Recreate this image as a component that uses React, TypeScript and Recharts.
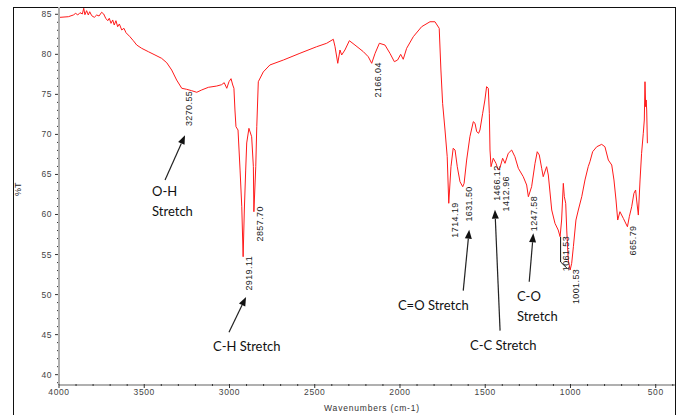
import React from 'react';
import { LineChart, Line, XAxis, YAxis, ReferenceDot, ReferenceLine } from 'recharts';

// spectrum (cm-1, %T)
const wavenumbers = [
  3994, 3945, 3916, 3902, 3890, 3877, 3863, 3855, 3848, 3838,
  3828, 3820, 3808, 3793, 3779, 3765, 3750, 3738, 3726, 3714,
  3705, 3695, 3685, 3676, 3666, 3656, 3646, 3632, 3619, 3607,
  3584, 3564, 3544, 3515, 3476, 3437, 3398, 3368, 3339, 3310,
  3280, 3251, 3222, 3192, 3163, 3124, 3075, 3046, 3031, 3016,
  3003, 2991, 2981, 2974, 2968, 2962, 2950, 2938, 2928, 2920,
  2913, 2905, 2899, 2886, 2870, 2860, 2857, 2846, 2840, 2831,
  2802, 2763, 2684, 2587, 2489, 2430, 2391, 2381, 2365, 2352,
  2342, 2323, 2297, 2264, 2215, 2186, 2166, 2146, 2121, 2088,
  2059, 2033, 2014, 1996, 1981, 1961, 1922, 1873, 1824, 1795,
  1770, 1760, 1750, 1736, 1723, 1714, 1701, 1688, 1677, 1664,
  1648, 1632, 1624, 1609, 1590, 1570, 1560, 1550, 1539, 1531,
  1515, 1502, 1492, 1482, 1476, 1472, 1466, 1453, 1437, 1424,
  1413, 1398, 1384, 1365, 1345, 1326, 1306, 1277, 1257, 1247,
  1228, 1208, 1195, 1183, 1169, 1160, 1140, 1130, 1110, 1091,
  1072, 1061, 1052, 1042, 1036, 1028, 1022, 1013, 1002, 993,
  983, 968, 954, 934, 915, 896, 886, 870, 846, 817,
  798, 778, 758, 745, 733, 723, 710, 690, 666, 655,
  641, 628, 618, 612, 602, 592, 583, 573, 567, 563,
  559, 556, 553, 549,
];
const transmittance = [
  84.62, 84.7, 84.91, 85.12, 84.91, 85.2, 85.04, 85.75, 84.95, 85.45,
  84.91, 85.32, 84.82, 84.62, 84.91, 84.79, 85.25, 85.04, 84.5, 84.2,
  84.5, 83.87, 84.29, 83.66, 84.2, 83.45, 83.79, 83.04, 83.25, 82.7,
  82.2, 81.7, 81.16, 80.75, 80.33, 79.92, 79.5, 78.95, 78.04, 76.79,
  75.76, 75.63, 75.46, 75.26, 75.55, 75.88, 76.04, 76.21, 76.46, 75.76,
  76.58, 76.96, 76.17, 75.76, 73.05, 70.96, 70.55, 65.55, 60.97, 54.73,
  60.56, 65.55, 68.93, 70.76, 69.71, 65.97, 60.35, 65.97, 70.96, 76.58,
  77.8, 78.67, 79.29, 80.13, 80.95, 81.38, 81.88, 80.95, 78.88, 80.54,
  79.92, 80.54, 81.7, 81.16, 80.33, 79.7, 78.88, 80.13, 81.38, 81.16,
  80.13, 79.08, 79.29, 80.0, 79.38, 80.75, 82.2, 83.45, 84.07, 84.07,
  83.25, 78.04, 73.88, 70.55, 67.22, 61.4, 65.97, 68.27, 68.05, 65.97,
  64.09, 63.47, 63.89, 66.8, 69.71, 71.59, 71.39, 70.34, 70.14, 70.55,
  72.64, 74.3, 75.96, 75.76, 72.64, 68.05, 65.97, 67.02, 66.39, 65.55,
  65.89, 67.02, 66.39, 67.64, 68.05, 67.22, 65.77, 64.72, 63.68, 62.22,
  63.47, 66.39, 67.84, 67.43, 65.77, 64.72, 65.97, 64.93, 60.56, 58.9,
  58.06, 57.23, 59.31, 63.89, 62.22, 61.4, 58.06, 54.32, 53.07, 53.9,
  55.98, 59.31, 60.56, 62.22, 64.31, 65.97, 66.59, 67.84, 68.46, 68.76,
  68.46, 66.8, 66.18, 64.31, 61.81, 59.31, 60.35, 59.52, 58.47, 59.72,
  60.97, 62.64, 63.06, 61.81, 59.93, 64.31, 67.64, 70.14, 71.8, 76.58,
  73.46, 74.3, 73.05, 68.9,
];

// peak picks
const peakLabels = ['3270.55', '2919.11', '2857.70', '2166.04', '1714.19', '1631.50', '1466.12', '1412.96', '1247.58', '1061.53', '1001.53', '665.79'];
const peakPositions = [3270.55, 2919.11, 2857.7, 2166.04, 1714.19, 1631.5, 1466.12, 1412.96, 1247.58, 1061.53, 1001.53, 665.79];
const peakValues = [75.7, 54.7, 60.3, 78.9, 61.4, 63.4, 66.0, 65.8, 62.2, 57.2, 53.1, 58.5];
// small pixel nudges for where the label text starts
const peakLift: Record<string, number> = { '3270.55': 2, '2857.70': -6, '1412.96': 8 };

// band annotations: text lines, where the text sits, arrow tail and tip (cm-1, %T)
const noteLines = [['O-H', 'Stretch'], ['C-H Stretch'], ['C=O Stretch'], ['C-C Stretch'], ['C-O', 'Stretch']];
const noteAt = [[3454, 62.3], [3097, 42.95], [2012, 48.07], [1589, 43.1], [1314, 49.2]];
const arrowFrom = [[3378, 64.3], [3003, 45.3], [1629, 50.5], [1413, 45.5], [1242, 51.6]];
const arrowTo = [[3261, 69.9], [2903, 49.7], [1594, 58.1], [1443, 60.6], [1218, 57.65]];

// leader drawn by the instrument software near 1061 / 1001
const leader = [[1058, 57.2], [1058, 54.07], [1021, 53.31]];

const xLabels = [4000, 3500, 3000, 2500, 2000, 1500, 1000, 500];
const yLabels = [40, 45, 50, 55, 60, 65, 70, 75, 80, 85];
const xTicks: number[] = [];
for (let v = 4000; v >= 400; v -= 100) xTicks.push(v);
const yTicks: number[] = [];
for (let v = 39; v <= 85; v++) yTicks.push(v);

const data = wavenumbers.map((wn, i) => ({ wn, t: transmittance[i] }));

const tickFont = "'Liberation Sans', Arial, sans-serif";
const noteFont = "Lato, 'Open Sans', sans-serif";

const YTick = ({ x, y, payload }: any) => {
  const v = payload.value;
  const major = yLabels.includes(v);
  return (
    <g>
      <line x1={x - (major ? 4 : 2)} x2={x - 1} y1={y} y2={y} stroke="#333" />
      {major && (
        <text x={x - 7} y={y} dy={3} textAnchor="end" fontSize={8.5} letterSpacing={0.5} fill="#444" fontFamily={tickFont}>
          {v}
        </text>
      )}
    </g>
  );
};

const XTick = ({ x, y, payload }: any) => {
  const v = payload.value;
  const major = xLabels.includes(v);
  return (
    <g>
      <line x1={x} x2={x} y1={y - 1} y2={y + (major ? 3 : 1)} stroke="#333" />
      {major && (
        <text x={x} y={y + 10} textAnchor="middle" fontSize={8.5} letterSpacing={0.6} fill="#444" fontFamily={tickFont}>
          {v}
        </text>
      )}
    </g>
  );
};

const Arrow = (p: any) => {
  const { x1, y1, x2, y2 } = p;
  const dx = x2 - x1;
  const dy = y2 - y1;
  const len = Math.hypot(dx, dy) || 1;
  const ux = dx / len;
  const uy = dy / len;
  const hl = 9;
  const hw = 3.5;
  const bx = x2 - ux * hl;
  const by = y2 - uy * hl;
  return (
    <g>
      <line x1={x1} y1={y1} x2={bx} y2={by} stroke="#222" strokeWidth={1.2} />
      <polygon points={`${x2},${y2} ${bx - uy * hw},${by + ux * hw} ${bx + uy * hw},${by - ux * hw}`} fill="#111" />
    </g>
  );
};

const Plain = (p: any) => <line x1={p.x1} y1={p.y1} x2={p.x2} y2={p.y2} stroke="#111" strokeWidth={1} />;

export default function App() {
  return (
    <div style={{ position: 'absolute', left: 0, top: 0, width: 679, height: 415, overflow: 'hidden', background: '#fff' }}>
      <div style={{ position: 'absolute', left: 13, top: 7, width: 661, height: 440, border: '1px solid #111' }} />
      <div style={{ position: 'absolute', left: 0, top: 0 }}>
        <LineChart width={679} height={415} data={data} margin={{ top: 7, right: 4, left: 0, bottom: 0 }}>
          <XAxis
            dataKey="wn"
            type="number"
            reversed
            domain={[387, 4000]}
            allowDataOverflow
            ticks={xTicks}
            interval={0}
            height={30}
            tickSize={0}
            tickMargin={0}
            tickLine={false}
            axisLine={{ stroke: '#b0b0b0', strokeWidth: 2 }}
            tick={<XTick />}
            label={{ value: 'Wavenumbers (cm-1)', position: 'insideBottom', offset: 4, dx: 5, fontSize: 8.5, letterSpacing: 0.8, fill: '#333', fontFamily: tickFont }}
          />
          <YAxis
            type="number"
            domain={[38.71, 85.91]}
            allowDataOverflow
            ticks={yTicks}
            interval={0}
            width={59}
            tickSize={0}
            tickMargin={0}
            tickLine={false}
            axisLine={{ stroke: '#b0b0b0', strokeWidth: 2 }}
            tick={<YTick />}
            label={{ value: '%T', angle: -90, position: 'insideLeft', offset: 18, fontSize: 9, fill: '#222', fontFamily: tickFont }}
          />
          <Line type="linear" dataKey="t" stroke="#ff1a1a" strokeWidth={1} dot={false} isAnimationActive={false} />

          <ReferenceLine segment={[{ x: leader[0][0], y: leader[0][1] }, { x: leader[1][0], y: leader[1][1] }]} shape={Plain} ifOverflow="visible" />
          <ReferenceLine segment={[{ x: leader[1][0], y: leader[1][1] }, { x: leader[2][0], y: leader[2][1] }]} shape={Plain} ifOverflow="visible" />

          {peakLabels.map((label, i) => (
            <ReferenceDot
              key={label}
              x={peakPositions[i]}
              y={peakValues[i]}
              r={0}
              ifOverflow="visible"
              shape={(p: any) => (
                <text
                  transform={`translate(${p.cx + 9},${p.cy + (peakLift[label] ?? -1)}) rotate(-90)`}
                  textAnchor="end"
                  fontSize={9}
                  letterSpacing={0.4}
                  fill="#222"
                  fontFamily={tickFont}
                >
                  {label}
                </text>
              )}
            />
          ))}

          {arrowFrom.map((from, i) => (
            <ReferenceLine
              key={'arrow' + i}
              segment={[{ x: from[0], y: from[1] }, { x: arrowTo[i][0], y: arrowTo[i][1] }]}
              shape={Arrow}
              ifOverflow="visible"
            />
          ))}

          {noteLines.map((lines, i) => (
            <ReferenceDot
              key={'note' + i}
              x={noteAt[i][0]}
              y={noteAt[i][1]}
              r={0}
              ifOverflow="visible"
              shape={(p: any) => (
                <text x={p.cx} y={p.cy} fontSize={13} fill="#111" fontFamily={noteFont}>
                  {lines.map((ln, j) => (
                    <tspan key={j} x={p.cx} dy={j === 0 ? 0 : 20}>
                      {ln}
                    </tspan>
                  ))}
                </text>
              )}
            />
          ))}
        </LineChart>
      </div>
    </div>
  );
}
